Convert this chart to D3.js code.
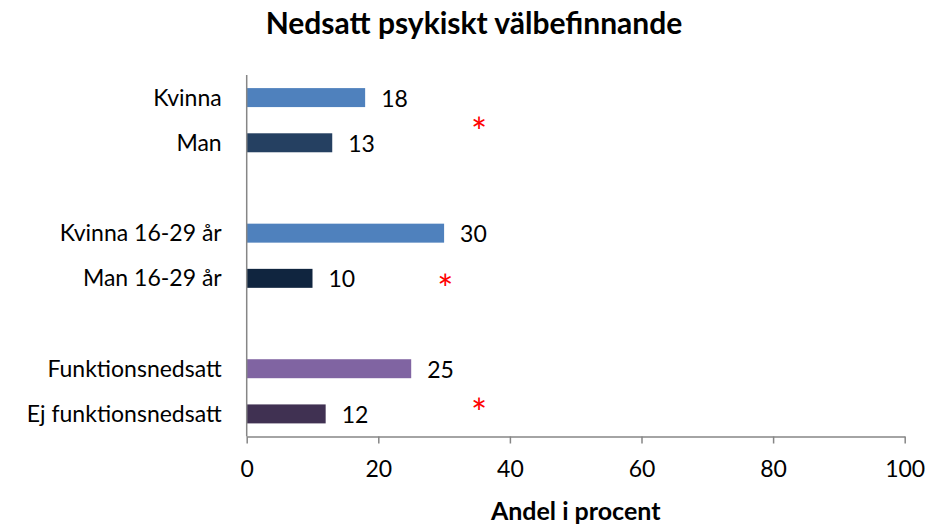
<!DOCTYPE html>
<html><head><meta charset="utf-8">
<script src="https://cdn.jsdelivr.net/npm/d3@7"></script>
<style>body{margin:0;background:#fff}svg{display:block}text{font-family:Lato,"Open Sans",sans-serif}</style>
</head><body><svg id="c" width="928" height="524"></svg>
<script>
const categories = ["Kvinna","Man","","Kvinna 16-29 år","Man 16-29 år","","Funktionsnedsatt","Ej funktionsnedsatt"];
const values = [18,13,null,30,10,null,25,12];
const colors = ["#4F81BD","#254061",null,"#4F81BD","#10253F",null,"#8064A2","#403152"];
const xTicks = [0,20,40,60,80,100];
const stars = [{x:35.3,slot:0.6},{x:30.2,slot:4.07},{x:35.3,slot:6.83}];
const title = "Nedsatt psykiskt välbefinnande";
const xTitle = "Andel i procent";

const svg = d3.select("#c");
const L=246.7, R=904.7, T=75, B=436.5;
const x = d3.scaleLinear().domain([0,100]).range([L,R]);
const y = d3.scaleBand().domain(d3.range(categories.length)).range([T,B]).paddingInner(0.58).paddingOuter(0.29);
const ys = d3.scaleLinear().domain([0,categories.length]).range([T,B]);

svg.append("text").attr("x",474).attr("y",34).attr("text-anchor","middle")
  .attr("font-weight","bold").attr("font-size",30).text(title);

const data = categories.map((c,i)=>({c,i,v:values[i],col:colors[i]})).filter(d=>d.v!=null);

svg.selectAll("rect.bar").data(data).join("rect").attr("class","bar")
  .attr("x",x(0)).attr("y",d=>y(d.i)).attr("width",d=>x(d.v)-x(0)).attr("height",y.bandwidth()).attr("fill",d=>d.col);

svg.selectAll("text.val").data(data).join("text").attr("class","val")
  .attr("x",d=>x(d.v)+16).attr("y",d=>y(d.i)+y.bandwidth()/2+9).attr("font-size",23).text(d=>d.v);

svg.selectAll("text.cat").data(data).join("text").attr("class","cat")
  .attr("x",L-25).attr("y",d=>y(d.i)+y.bandwidth()/2+8).attr("text-anchor","end").attr("font-size",23).text(d=>d.c);

const ax = svg.append("g").attr("transform",`translate(0,${B})`)
  .call(d3.axisBottom(x).tickValues(xTicks).tickSize(7).tickSizeOuter(0).tickPadding(17));
ax.select(".domain").attr("stroke","#868686").attr("stroke-width",1.5);
ax.selectAll(".tick line").attr("stroke","#868686").attr("stroke-width",1.5);
ax.selectAll(".tick text").attr("font-size",23).attr("fill","#000").attr("font-family","Lato");

svg.append("line").attr("x1",L).attr("x2",L).attr("y1",T).attr("y2",B).attr("stroke","#868686").attr("stroke-width",1.5);

svg.append("text").attr("x",(L+R)/2).attr("y",520).attr("text-anchor","middle")
  .attr("font-weight","bold").attr("font-size",25).text(xTitle);

svg.selectAll("text.star").data(stars).join("text").attr("class","star")
  .attr("x",d=>x(d.x)).attr("y",d=>ys(d.slot+0.5)+21).attr("text-anchor","middle")
  .attr("font-size",38).attr("fill","#FF0000").text("*");
</script></body></html>
